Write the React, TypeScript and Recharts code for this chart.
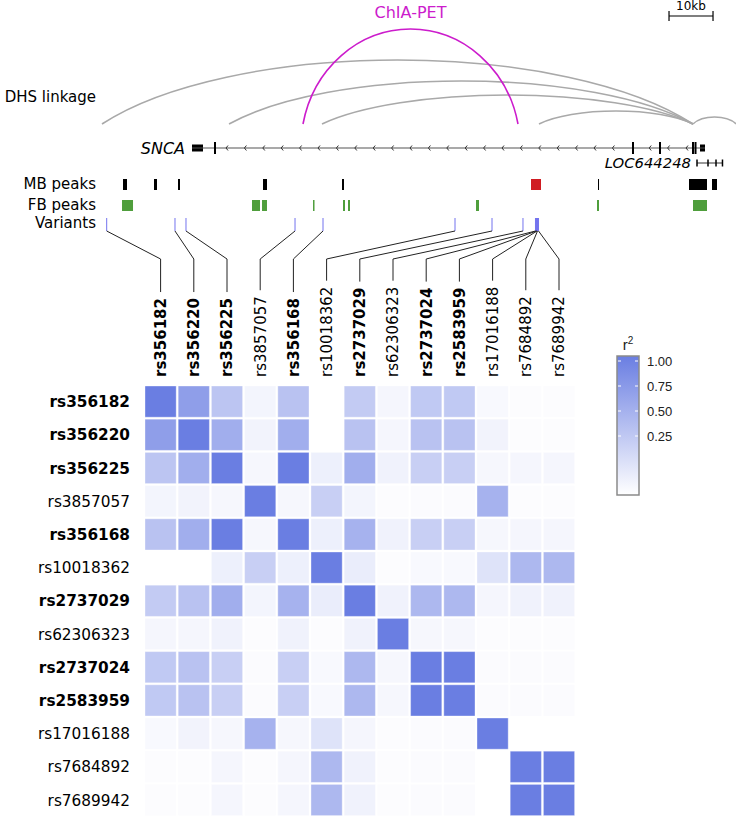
import React from 'react';
import { ComposedChart, XAxis, YAxis, ReferenceArea, ReferenceLine, Scatter } from 'recharts';

const W = 736;
const H = 817;
const FONT = '"DejaVu Sans", Verdana, sans-serif';

// ---------------- data ----------------
const snpIds = ['rs356182', 'rs356220', 'rs356225', 'rs3857057', 'rs356168', 'rs10018362', 'rs2737029', 'rs62306323', 'rs2737024', 'rs2583959', 'rs17016188', 'rs7684892', 'rs7689942'];
const snpBold = [true, true, true, false, true, false, true, false, true, true, false, false, false];
// genomic position of each variant (kb from window start)
const snpPosKb = [24.25, 39.77, 42.27, 67.05, 73.41, 103.41, 111.82, 118.86, 121.7, 121.93, 122.05, 122.16, 122.39];

const r2Rows = [
  [1.0, 0.75, 0.45, 0.08, 0.47, 0.0, 0.4, 0.07, 0.42, 0.42, 0.05, 0.02, 0.02],
  [0.75, 1.0, 0.63, 0.09, 0.63, 0.0, 0.47, 0.07, 0.47, 0.47, 0.09, 0.02, 0.02],
  [0.45, 0.63, 1.0, 0.06, 1.0, 0.12, 0.63, 0.1, 0.37, 0.37, 0.06, 0.07, 0.07],
  [0.08, 0.09, 0.06, 1.0, 0.06, 0.37, 0.08, 0.02, 0.03, 0.03, 0.6, 0.02, 0.02],
  [0.47, 0.63, 1.0, 0.06, 1.0, 0.12, 0.6, 0.1, 0.37, 0.37, 0.06, 0.07, 0.07],
  [0.0, 0.0, 0.12, 0.37, 0.12, 1.0, 0.14, 0.02, 0.05, 0.05, 0.22, 0.55, 0.55],
  [0.4, 0.47, 0.63, 0.08, 0.6, 0.14, 1.0, 0.1, 0.55, 0.55, 0.07, 0.1, 0.1],
  [0.07, 0.07, 0.1, 0.02, 0.1, 0.02, 0.1, 1.0, 0.06, 0.06, 0.02, 0.02, 0.02],
  [0.42, 0.47, 0.37, 0.03, 0.37, 0.05, 0.55, 0.06, 1.0, 1.0, 0.03, 0.03, 0.03],
  [0.42, 0.47, 0.37, 0.03, 0.37, 0.05, 0.55, 0.06, 1.0, 1.0, 0.03, 0.03, 0.03],
  [0.05, 0.09, 0.06, 0.6, 0.06, 0.22, 0.07, 0.02, 0.03, 0.03, 1.0, 0.0, 0.0],
  [0.02, 0.02, 0.07, 0.02, 0.07, 0.55, 0.1, 0.02, 0.03, 0.03, 0.0, 1.0, 1.0],
  [0.02, 0.02, 0.07, 0.02, 0.07, 0.55, 0.1, 0.02, 0.03, 0.03, 0.0, 1.0, 1.0],
];

// peaks [startKb, endKb]
const mbPeaks = [[27.95, 28.86], [35.0, 35.68], [40.45, 40.91], [59.77, 60.68], [77.73, 78.18], [135.91, 136.14], [156.59, 160.68], [161.82, 162.95]];
const mbTargetPeaks = [[120.68, 122.95]];
const fbPeaks = [[27.73, 30.23], [57.27, 59.09], [59.55, 60.68], [71.14, 71.48], [77.95, 78.41], [79.09, 79.55], [108.18, 108.86], [135.68, 136.14], [157.5, 160.68]];

// SNCA gene model (kb)
const sncaSpan = [43.64, 160.23];
const sncaUtr = [[43.64, 46.14], [159.09, 160.23]];
const sncaExons = [48.86, 143.86, 150.0, 157.5, 158.07];
const locSpan = [158.41, 164.32];
const locExons = [158.41, 160.91, 162.73, 164.2];

// loops: start/end in kb, height = rise above the baseline
const dhsArcs = [
  { start: 23.18, end: 157.5, height: 64 },
  { start: 52.05, end: 157.5, height: 43 },
  { start: 73.18, end: 157.5, height: 29 },
  { start: 122.5, end: 157.5, height: 13 },
  { start: 157.5, end: 167.3, height: 7 },
];
const chiaArcs = [{ start: 68.86, end: 117.73, height: 95 }];

const colorbarTicks = [1.0, 0.75, 0.5, 0.25];
const scaleBarKb = [152.05, 162.05];

// ---------------- layout ----------------
const PX_PER_KB = 4.4;
const HM_LEFT = 144;
const HM_TOP = 385;
const CELL = 33.2;
const ARC_BASE = 124;
const GENE_Y = 148;
const LOC_Y = 163;
const MB_Y = [179, 190];
const FB_Y = [200, 211];
const VAR_Y = [218, 231];
const ELBOW_Y = 259;
const LABEL_BOTTOM = 377;
const CB_X = [617, 639];
const CB_ONE_PX = 361;
const CB_UNIT_PX = 100;
const CB_RANGE = [-0.34, 1.05];

const COLOR_MAX = [106, 126, 226];
const r2Color = (v: number) => {
  const c = COLOR_MAX.map((m) => Math.round(255 - v * (255 - m)));
  return `rgb(${c[0]},${c[1]},${c[2]})`;
};
const colKb = (i: number) => (HM_LEFT + CELL * (i + 0.5)) / PX_PER_KB;

const W_REG: Record<string, number> = { r: 0.411, s: 0.521 };
const W_BOLD: Record<string, number> = { r: 0.493, s: 0.595 };
const textLen = (t: string, bold: boolean) =>
  t.split('').reduce((a, ch) => a + (bold ? (W_BOLD[ch] ?? 0.696) : (W_REG[ch] ?? 0.636)), 0) * 15;

function arcPath(x1: number, x2: number, y: number, h: number, k: number) {
  const half = (x2 - x1) / 2;
  const rx = half * k;
  const q = Math.sqrt(1 - 1 / (k * k));
  const ry = h / (1 - q);
  return `M${x1},${y} A${rx},${ry} 0 0 1 ${x2},${y}`;
}

const trackLabels = [
  { x: 96, y: 97, text: 'DHS linkage', anchor: 'end' },
  { x: 96, y: 184, text: 'MB peaks', anchor: 'end' },
  { x: 96, y: 205, text: 'FB peaks', anchor: 'end' },
  { x: 96, y: 223, text: 'Variants', anchor: 'end' },
];

export default function App() {
  const cells: React.ReactNode[] = [];
  const g = 1 / CELL;
  r2Rows.forEach((row, i) =>
    row.forEach((v, j) => {
      cells.push(
        <ReferenceArea key={`c${i}-${j}`} xAxisId="snp" yAxisId="snpY" x1={j + g} x2={j + 1 - g} y1={i + g} y2={i + 1 - g}
          fill={r2Color(v)} fillOpacity={1} stroke="#ffffff" strokeOpacity={0.35} strokeWidth={1} ifOverflow="visible" />
      );
    })
  );

  const textShape = (p: any) => {
    const d = p.payload;
    return (
      <text x={p.cx} y={p.cy} dy="0.35em" textAnchor={d.anchor} fontFamily={FONT} fontSize={15} fill="#000">
        {d.text}
      </text>
    );
  };

  return (
    <div style={{ position: 'absolute', left: 0, top: 0, width: W, height: H, background: '#fff' }}>
      <ComposedChart width={W} height={H} margin={{ top: 0, right: 0, bottom: 0, left: 0 }}>
        <defs>
          <linearGradient id="cbGrad" x1="0" y1="1" x2="0" y2="0">
            <stop offset="0%" stopColor="#ffffff" />
            <stop offset="100%" stopColor={r2Color(1)} />
          </linearGradient>
        </defs>
        <XAxis xAxisId="kb" dataKey="x" type="number" domain={[0, W / PX_PER_KB]} allowDataOverflow hide />
        <XAxis xAxisId="px" dataKey="x" type="number" domain={[0, W]} allowDataOverflow hide />
        <XAxis xAxisId="snp" dataKey="x" type="number" domain={[-HM_LEFT / CELL, (W - HM_LEFT) / CELL]} allowDataOverflow hide />
        <YAxis yAxisId="trk" dataKey="y" type="number" domain={[0, H]} reversed allowDataOverflow hide width={0} />
        <YAxis yAxisId="snpY" dataKey="y" type="number" domain={[-HM_TOP / CELL, (H - HM_TOP) / CELL]} reversed allowDataOverflow hide width={0} />
        <YAxis yAxisId="cb" dataKey="y" type="number" domain={[1 - (H - CB_ONE_PX) / CB_UNIT_PX, 1 + CB_ONE_PX / CB_UNIT_PX]} allowDataOverflow hide width={0} />

        {/* loops */}
        {dhsArcs.map((a, i) => (
          <ReferenceLine key={`dhs${i}`} xAxisId="kb" yAxisId="trk" ifOverflow="visible"
            segment={[{ x: a.start, y: ARC_BASE }, { x: a.end, y: ARC_BASE }]}
            shape={(p: any) => <path d={arcPath(p.x1, p.x2, p.y1, a.height, 1.15)} fill="none" stroke="#a9a9a9" strokeWidth={1.6} />} />
        ))}
        {chiaArcs.map((a, i) => (
          <ReferenceLine key={`chia${i}`} xAxisId="kb" yAxisId="trk" ifOverflow="visible"
            segment={[{ x: a.start, y: ARC_BASE }, { x: a.end, y: ARC_BASE }]}
            shape={(p: any) => <path d={arcPath(p.x1, p.x2, p.y1, a.height, 1.02)} fill="none" stroke="#cc1ccc" strokeWidth={1.6} />} />
        ))}

        {/* SNCA gene */}
        <ReferenceLine xAxisId="kb" yAxisId="trk" ifOverflow="visible"
          segment={[{ x: sncaSpan[0], y: GENE_Y }, { x: sncaSpan[1], y: GENE_Y }]}
          shape={(p: any) => {
            const ticksPx = sncaExons.map((e) => e * PX_PER_KB);
            const chev: React.ReactNode[] = [];
            for (let x = p.x1 + 34; x < p.x2 - 10; x += 18.4) {
              if (ticksPx.some((t) => Math.abs(t - x) < 5)) continue;
              chev.push(<path key={x} d={`M${x + 2},${p.y1 - 2.5} L${x},${p.y1} L${x + 2},${p.y1 + 2.5}`} fill="none" stroke="#333" strokeWidth={1} />);
            }
            return (
              <g>
                <line x1={p.x1} y1={p.y1} x2={p.x2} y2={p.y2} stroke="#555" strokeWidth={1.2} />
                {chev}
              </g>
            );
          }} />
        {sncaUtr.map((u, i) => (
          <ReferenceArea key={`utr${i}`} xAxisId="kb" yAxisId="trk" x1={u[0]} x2={u[1]} y1={GENE_Y - 3.5} y2={GENE_Y + 3.5} fill="#000" fillOpacity={1} ifOverflow="visible" />
        ))}
        {sncaExons.map((e, i) => (
          <ReferenceLine key={`ex${i}`} xAxisId="kb" yAxisId="trk" ifOverflow="visible"
            segment={[{ x: e, y: GENE_Y - 6 }, { x: e, y: GENE_Y + 6 }]} stroke="#000" strokeWidth={2} />
        ))}
        <ReferenceLine xAxisId="kb" yAxisId="trk" ifOverflow="visible"
          segment={[{ x: locSpan[0], y: LOC_Y }, { x: locSpan[1], y: LOC_Y }]} stroke="#555" strokeWidth={1.2} />
        {locExons.map((e, i) => (
          <ReferenceLine key={`lex${i}`} xAxisId="kb" yAxisId="trk" ifOverflow="visible"
            segment={[{ x: e, y: LOC_Y - 3.5 }, { x: e, y: LOC_Y + 3.5 }]} stroke="#000" strokeWidth={1.5} />
        ))}

        {/* peaks */}
        {mbPeaks.map((pk, i) => (
          <ReferenceArea key={`mb${i}`} xAxisId="kb" yAxisId="trk" x1={pk[0]} x2={pk[1]} y1={MB_Y[0]} y2={MB_Y[1]} fill="#000" fillOpacity={1} ifOverflow="visible" />
        ))}
        {mbTargetPeaks.map((pk, i) => (
          <ReferenceArea key={`mbt${i}`} xAxisId="kb" yAxisId="trk" x1={pk[0]} x2={pk[1]} y1={MB_Y[0]} y2={MB_Y[1]} fill="#d01c22" fillOpacity={1} ifOverflow="visible" />
        ))}
        {fbPeaks.map((pk, i) => (
          <ReferenceArea key={`fb${i}`} xAxisId="kb" yAxisId="trk" x1={pk[0]} x2={pk[1]} y1={FB_Y[0]} y2={FB_Y[1]} fill="#4f9e3c" fillOpacity={1} ifOverflow="visible" />
        ))}

        {/* variants and connectors */}
        {snpPosKb.map((p, i) => (
          <ReferenceLine key={`v${i}`} xAxisId="kb" yAxisId="trk" ifOverflow="visible"
            segment={[{ x: p, y: VAR_Y[0] }, { x: p, y: VAR_Y[1] }]} stroke="#7373ee" strokeWidth={1} />
        ))}
        {snpPosKb.map((p, i) => (
          <ReferenceLine key={`d${i}`} xAxisId="kb" yAxisId="trk" ifOverflow="visible"
            segment={[{ x: p, y: VAR_Y[1] }, { x: colKb(i), y: ELBOW_Y }]} stroke="#222" strokeWidth={1} />
        ))}
        {snpIds.map((s, i) => (
          <ReferenceLine key={`vl${i}`} xAxisId="snp" yAxisId="trk" ifOverflow="visible"
            segment={[{ x: i + 0.5, y: ELBOW_Y }, { x: i + 0.5, y: LABEL_BOTTOM - textLen(s, snpBold[i]) - 6 }]} stroke="#222" strokeWidth={1} />
        ))}

        {/* heatmap */}
        {cells}

        {/* column labels */}
        <Scatter xAxisId="snp" yAxisId="trk" isAnimationActive={false}
          data={snpIds.map((s, i) => ({ x: i + 0.5, y: LABEL_BOTTOM, text: s, bold: snpBold[i] }))}
          shape={(p: any) => (
            <text x={p.cx} y={p.cy} dy="0.36em" transform={`rotate(-90 ${p.cx} ${p.cy})`} textAnchor="start"
              fontFamily={FONT} fontSize={15} fontWeight={p.payload.bold ? 'bold' : 'normal'} fill="#000">
              {p.payload.text}
            </text>
          )} />
        {/* row labels */}
        <Scatter xAxisId="px" yAxisId="snpY" isAnimationActive={false}
          data={snpIds.map((s, i) => ({ x: 130, y: i + 0.5, text: s, bold: snpBold[i] }))}
          shape={(p: any) => (
            <text x={p.cx} y={p.cy} dy="0.36em" textAnchor="end" fontFamily={FONT} fontSize={15.3}
              fontWeight={p.payload.bold ? 'bold' : 'normal'} fill="#000">
              {p.payload.text}
            </text>
          )} />

        {/* track labels */}
        <Scatter xAxisId="px" yAxisId="trk" isAnimationActive={false} data={trackLabels} shape={textShape} />
        <Scatter xAxisId="kb" yAxisId="trk" isAnimationActive={false}
          data={[{ x: sncaSpan[0], y: GENE_Y }]}
          shape={(p: any) => (
            <text x={p.cx - 7} y={p.cy} dy="0.36em" textAnchor="end" fontFamily={FONT} fontSize={16} fontStyle="italic" fill="#000">SNCA</text>
          )} />
        <Scatter xAxisId="kb" yAxisId="trk" isAnimationActive={false}
          data={[{ x: locSpan[0], y: LOC_Y }]}
          shape={(p: any) => (
            <text x={p.cx - 6} y={p.cy} dy="0.36em" textAnchor="end" fontFamily={FONT} fontSize={14.8} fontStyle="italic" fill="#000">LOC644248</text>
          )} />
        <Scatter xAxisId="kb" yAxisId="trk" isAnimationActive={false}
          data={chiaArcs.map((a) => ({ x: (a.start + a.end) / 2, y: 12 }))}
          shape={(p: any) => (
            <text x={p.cx} y={p.cy} dy="0.36em" textAnchor="middle" fontFamily={FONT} fontSize={16} fill="#cc1ccc">ChIA-PET</text>
          )} />

        {/* scale bar */}
        <ReferenceLine xAxisId="kb" yAxisId="trk" ifOverflow="visible"
          segment={[{ x: scaleBarKb[0], y: 16 }, { x: scaleBarKb[1], y: 16 }]} stroke="#000" strokeWidth={1.2} />
        {scaleBarKb.map((k, i) => (
          <ReferenceLine key={`sb${i}`} xAxisId="kb" yAxisId="trk" ifOverflow="visible"
            segment={[{ x: k, y: 11 }, { x: k, y: 21 }]} stroke="#000" strokeWidth={1.2} />
        ))}
        <Scatter xAxisId="kb" yAxisId="trk" isAnimationActive={false}
          data={[{ x: (scaleBarKb[0] + scaleBarKb[1]) / 2, y: 6 }]}
          shape={(p: any) => (
            <text x={p.cx} y={p.cy} dy="0.36em" textAnchor="middle" fontFamily={FONT} fontSize={12} fill="#000">10kb</text>
          )} />

        {/* colour bar */}
        <ReferenceArea xAxisId="px" yAxisId="cb" x1={CB_X[0]} x2={CB_X[1]} y1={CB_RANGE[0]} y2={CB_RANGE[1]}
          fill="url(#cbGrad)" fillOpacity={1} stroke="#8a8a8a" strokeWidth={1.5} ifOverflow="visible" />
        {colorbarTicks.map((t, i) => (
          <ReferenceLine key={`cbl${i}`} xAxisId="px" yAxisId="cb" ifOverflow="visible"
            segment={[{ x: CB_X[0] + 1, y: t }, { x: CB_X[0] + 4, y: t }]} stroke="#fff" strokeWidth={1} />
        ))}
        {colorbarTicks.map((t, i) => (
          <ReferenceLine key={`cbr${i}`} xAxisId="px" yAxisId="cb" ifOverflow="visible"
            segment={[{ x: CB_X[1] - 4, y: t }, { x: CB_X[1] - 1, y: t }]} stroke="#fff" strokeWidth={1} />
        ))}
        <Scatter xAxisId="px" yAxisId="cb" isAnimationActive={false}
          data={colorbarTicks.map((t) => ({ x: CB_X[1] + 8, y: t }))}
          shape={(p: any) => (
            <text x={p.cx} y={p.cy} dy="0.36em" textAnchor="start" fontFamily='"Liberation Sans", Arial, sans-serif' fontSize={13} fill="#222">
              {p.payload.y.toFixed(2)}
            </text>
          )} />
        <Scatter xAxisId="px" yAxisId="cb" isAnimationActive={false}
          data={[{ x: (CB_X[0] + CB_X[1]) / 2, y: 1.16 }]}
          shape={(p: any) => (
            <text x={p.cx} y={p.cy} dy="0.36em" textAnchor="middle" fontFamily='"Liberation Sans", Arial, sans-serif' fontSize={15} fill="#222">
              r<tspan dy={-6} fontSize={10}>2</tspan>
            </text>
          )} />
      </ComposedChart>
    </div>
  );
}
